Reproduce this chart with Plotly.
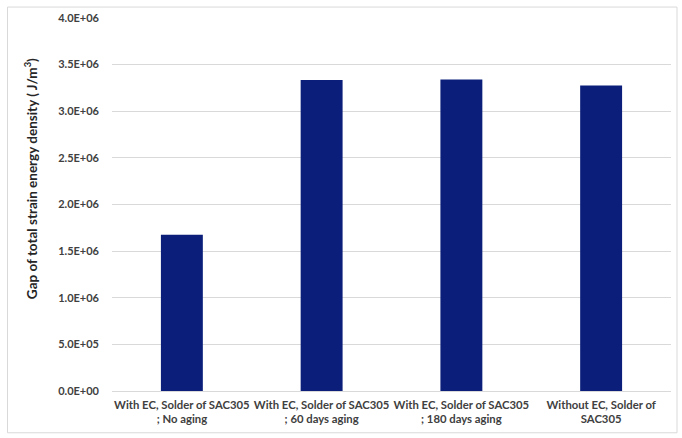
import plotly.graph_objects as go

categories = [
    "With EC, Solder of SAC305<br>; No aging",
    "With EC, Solder of SAC305<br>; 60 days aging",
    "With EC, Solder of SAC305<br>; 180 days aging",
    "Without EC, Solder of<br>SAC305",
]
values = [1.675e6, 3.335e6, 3.34e6, 3.275e6]
y_tickvals = [0, 5e5, 1e6, 1.5e6, 2e6, 2.5e6, 3e6, 3.5e6, 4e6]
y_ticktext = ["0.0E+00", "5.0E+05", "1.0E+06", "1.5E+06", "2.0E+06",
              "2.5E+06", "3.0E+06", "3.5E+06", "4.0E+06"]
y_title = "Gap of total strain energy density ( J/m<sup>3</sup>)"

FONT = "Lato"
fig = go.Figure(go.Bar(x=categories, y=values, marker_color="#0b1f7a",
                       marker_line_width=0, width=0.3))

L, R, T, B = 112, 11, 16, 47
W, H = 682, 438
pw, ph = W - L - R, H - T - B

def px_x(p):
    return (p - L) / pw

def px_y(p):
    return (H - B - p) / ph

fig.update_layout(
    width=W, height=H,
    margin=dict(l=L, r=R, t=T, b=B, pad=0),
    paper_bgcolor="white", plot_bgcolor="white",
    showlegend=False,
    font=dict(family=FONT, color="#404040"),
    xaxis=dict(
        tickfont=dict(family=FONT, size=11.3, color="#404040", weight="bold"),
        showgrid=False, showline=True, linecolor="#d9d9d9", linewidth=1,
        ticks="", fixedrange=True, ticklabelstandoff=3,
    ),
    yaxis=dict(
        range=[0, 4e6], tickvals=y_tickvals, ticktext=y_ticktext,
        tickfont=dict(family=FONT, size=11, color="#404040", weight="bold"),
        showgrid=True, gridcolor="#d9d9d9", gridwidth=1,
        zeroline=False, ticks="", ticklabelstandoff=12,
    ),
    annotations=[dict(text=y_title, textangle=-90, xref="paper", yref="paper",
                      x=px_x(31), y=px_y(178), xanchor="center", yanchor="middle",
                      showarrow=False,
                      font=dict(family=FONT, size=13.5, color="#262626", weight="bold"))],
    shapes=[dict(type="rect", xref="paper", yref="paper",
                 x0=px_x(7.5), x1=px_x(677), y0=px_y(433), y1=px_y(5),
                 line=dict(color="#d9d9d9", width=1), fillcolor="rgba(0,0,0,0)",
                 layer="below")],
)

fig.write_html("out.html")
